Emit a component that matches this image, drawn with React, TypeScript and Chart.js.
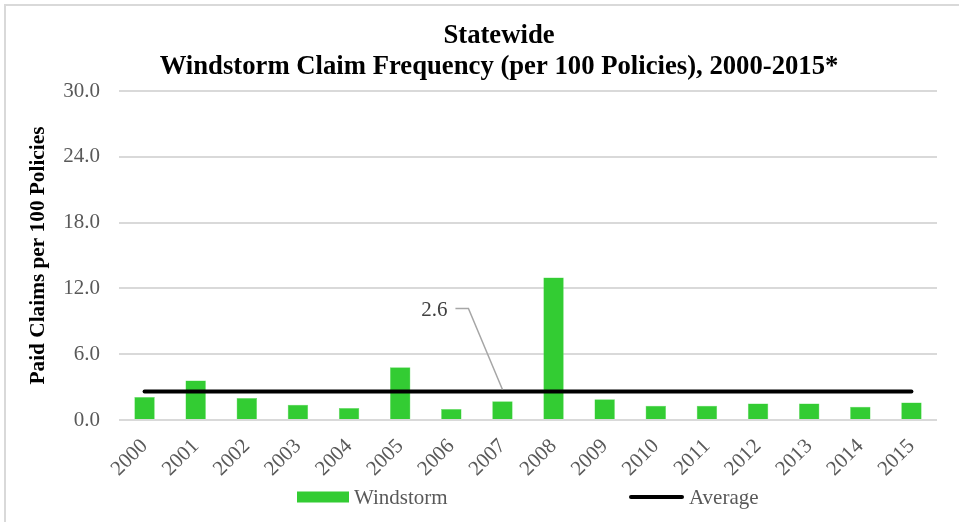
import React, { useEffect, useRef } from "react";
import { Chart, registerables } from "chart.js";

Chart.register(...registerables);

const years = ["2000","2001","2002","2003","2004","2005","2006","2007","2008","2009","2010","2011","2012","2013","2014","2015"];
const windstorm = [2.1, 3.6, 2.0, 1.4, 1.1, 4.8, 1.0, 1.7, 13.0, 1.9, 1.3, 1.3, 1.5, 1.5, 1.2, 1.6];
const averageValue = 2.6;
const average = years.map(() => averageValue);
const titleLines = ["Statewide", "Windstorm Claim Frequency (per 100 Policies), 2000-2015*"];
const yAxisTitle = "Paid Claims per 100 Policies";
const seriesNames = ["Windstorm", "Average"];
const labelIndex = 7;

const SERIF = "'Liberation Serif', 'Times New Roman', serif";
const GREEN = "#33cc33";
const GRAY_TEXT = "#595959";

const decorPlugin = {
  id: "decor",
  beforeDraw(chart: any) {
    const ctx = chart.ctx;
    ctx.save();
    ctx.fillStyle = "#ffffff";
    ctx.fillRect(0, 0, chart.width, chart.height);
    ctx.strokeStyle = "#d9d9d9";
    ctx.lineWidth = 2;
    ctx.strokeRect(5, 5, chart.width + 50, chart.height + 50);
    ctx.restore();
  },
  afterDraw(chart: any) {
    const ctx = chart.ctx;
    ctx.save();
    // title
    ctx.fillStyle = "#000000";
    ctx.textAlign = "center";
    ctx.textBaseline = "alphabetic";
    ctx.font = `bold 26.7px ${SERIF}`;
    ctx.fillText(titleLines[0], 499, 43);
    ctx.fillText(titleLines[1], 499, 74);

    // average data label with leader line
    const xs = chart.scales.x;
    const ys = chart.scales.y;
    const ax = xs.getPixelForValue(labelIndex);
    const ay = ys.getPixelForValue(average[labelIndex]);
    ctx.strokeStyle = "#a6a6a6";
    ctx.lineWidth = 1.5;
    ctx.beginPath();
    ctx.moveTo(ax - 47, ay - 83);
    ctx.lineTo(ax - 34, ay - 83);
    ctx.lineTo(ax, ay - 2);
    ctx.stroke();
    ctx.fillStyle = "#404040";
    ctx.font = `21px ${SERIF}`;
    ctx.textAlign = "right";
    ctx.textBaseline = "middle";
    ctx.fillText(averageValue.toFixed(1), ax - 55, ay - 81);

    // legend
    const ly = 497;
    ctx.fillStyle = GREEN;
    ctx.fillRect(297, ly - 5.5, 52, 11);
    ctx.fillStyle = GRAY_TEXT;
    ctx.textAlign = "left";
    ctx.textBaseline = "middle";
    ctx.fillText(seriesNames[0], 354, ly + 1);
    ctx.strokeStyle = "#000000";
    ctx.lineWidth = 4;
    ctx.lineCap = "round";
    ctx.beginPath();
    ctx.moveTo(631, ly);
    ctx.lineTo(682, ly);
    ctx.stroke();
    ctx.fillText(seriesNames[1], 689, ly + 1);
    ctx.restore();
  },
};

export default function App() {
  const ref = useRef<HTMLCanvasElement | null>(null);
  useEffect(() => {
    if (!ref.current) return;
    const chart = new Chart(ref.current, {
      type: "bar",
      data: {
        labels: years,
        datasets: [
          {
            type: "line",
            label: seriesNames[1],
            data: average,
            borderColor: "#000000",
            backgroundColor: "#000000",
            borderWidth: 4,
            pointRadius: 0,
            borderCapStyle: "round",
            order: 0,
          } as any,
          {
            type: "bar",
            label: seriesNames[0],
            data: windstorm,
            backgroundColor: GREEN,
            borderColor: "#66dd66",
            borderWidth: 0.5,
            barPercentage: 0.4,
            categoryPercentage: 1,
            order: 1,
          },
        ],
      },
      options: {
        responsive: false,
        animation: false,
        devicePixelRatio: 1,
        layout: { padding: { top: 91, right: 22, bottom: 37, left: 22 } },
        plugins: {
          legend: { display: false },
          title: { display: false },
          tooltip: { enabled: false },
        },
        scales: {
          x: {
            grid: { display: false },
            border: { display: false },
            ticks: {
              color: GRAY_TEXT,
              font: { family: SERIF, size: 21 },
              minRotation: 45,
              maxRotation: 45,
              autoSkip: false,
              padding: 6,
            },
            afterFit(scale: any) {
              scale.height = 65;
            },
          },
          y: {
            min: 0,
            max: 30,
            grid: { color: "#d9d9d9", lineWidth: 2, drawTicks: false },
            border: { display: false },
            ticks: {
              stepSize: 6,
              color: GRAY_TEXT,
              font: { family: SERIF, size: 21 },
              padding: 19,
              callback: (v: any) => Number(v).toFixed(1),
            },
            title: {
              display: true,
              text: yAxisTitle,
              color: "#000000",
              font: { family: SERIF, size: 21.3, weight: "bold" },
              padding: { top: 4, bottom: 0 },
            },
            afterFit(scale: any) {
              scale.width = 97;
            },
          },
        },
      },
      plugins: [decorPlugin],
    });
    return () => chart.destroy();
  }, []);
  return (
    <div style={{ position: "absolute", left: 0, top: 0, width: 959, height: 522 }}>
      <canvas ref={ref} width={959} height={522} style={{ display: "block" }} />
    </div>
  );
}
